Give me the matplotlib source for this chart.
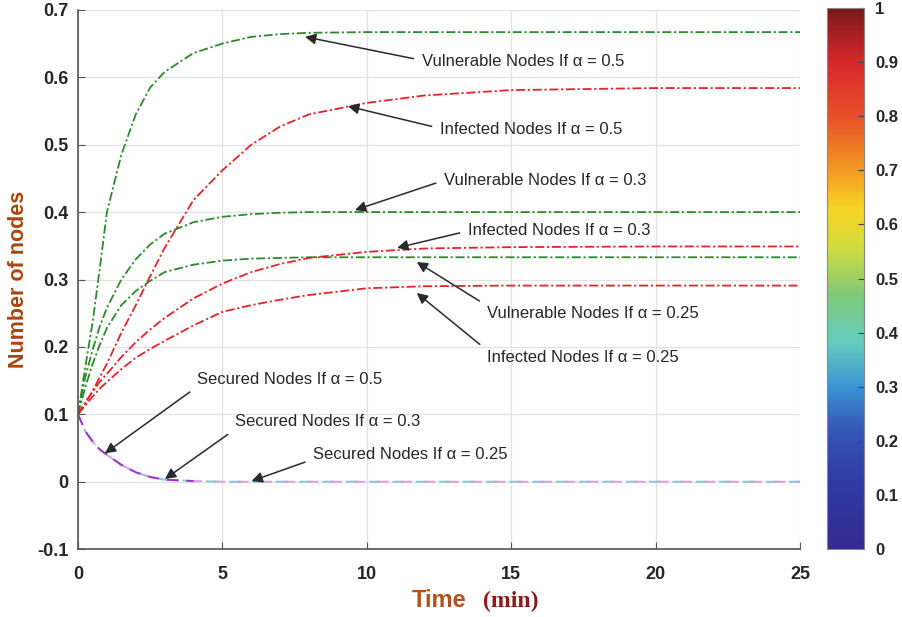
import numpy as np
import matplotlib
matplotlib.use('Agg')
from matplotlib import pyplot as plt
from matplotlib import cm, colors

plt.rcParams['font.family'] = ['Liberation Sans', 'DejaVu Sans']

# time samples (min)
t = [0, 0.25, 0.5, 0.75, 1, 1.5, 2, 2.5, 3, 4, 5, 6, 7, 8, 10, 12, 15, 20, 25]

# vulnerable nodes
vul_05 = [0.1, 0.17, 0.235, 0.315, 0.40, 0.485, 0.545, 0.585, 0.608, 0.636, 0.650, 0.660, 0.664, 0.666, 0.667, 0.667, 0.667, 0.667, 0.667]
vul_03 = [0.1, 0.155, 0.195, 0.23, 0.258, 0.30, 0.33, 0.352, 0.368, 0.385, 0.393, 0.397, 0.399, 0.400, 0.400, 0.400, 0.400, 0.400, 0.400]
vul_025 = [0.1, 0.14, 0.174, 0.203, 0.228, 0.262, 0.283, 0.298, 0.311, 0.322, 0.328, 0.331, 0.332, 0.333, 0.333, 0.333, 0.333, 0.333, 0.333]

# infected nodes
inf_05 = [0.1, 0.116, 0.134, 0.155, 0.175, 0.221, 0.262, 0.305, 0.347, 0.418, 0.462, 0.500, 0.527, 0.545, 0.562, 0.573, 0.581, 0.584, 0.584]
inf_03 = [0.1, 0.118, 0.133, 0.148, 0.160, 0.185, 0.207, 0.226, 0.243, 0.272, 0.294, 0.311, 0.323, 0.332, 0.341, 0.346, 0.348, 0.349, 0.349]
inf_025 = [0.1, 0.113, 0.126, 0.138, 0.148, 0.167, 0.184, 0.197, 0.209, 0.232, 0.252, 0.262, 0.270, 0.277, 0.287, 0.290, 0.291, 0.291, 0.291]

# secured nodes (the three alpha cases overlap)
sec_all = [0.1, 0.075, 0.060, 0.048, 0.040, 0.025, 0.014, 0.007, 0.003, 0.001, 0, 0, 0, 0, 0, 0, 0, 0, 0]

# colorbar colours (washed-out jet)
cbar_stops = [0.0, 0.12, 0.22, 0.30, 0.38, 0.47, 0.56, 0.63, 0.70, 0.80, 0.90, 1.0]
cbar_cols = ['#34298e', '#2f3aa4', '#3456b6', '#3a95d2', '#63cbc0', '#7fca78',
             '#d3dc3e', '#f7d424', '#f39a22', '#e8502a', '#d8282a', '#7a1818']

GREEN = '#2b8a2b'
RED = '#e3232c'

fig = plt.figure(figsize=(9.02, 6.17), dpi=100)
ax = fig.add_axes([0.0865, 0.110, 0.8004, 0.874])

dashdot = (0, (5, 1.5, 1.2, 1.5))
for y in (vul_05, vul_03, vul_025):
    ax.plot(t, y, color=GREEN, lw=1.3, linestyle=dashdot)
for y in (inf_05, inf_03, inf_025):
    ax.plot(t, y, color=RED, lw=1.3, linestyle=dashdot)

ax.plot(t, sec_all, color='#7fc8e0', lw=1.4, linestyle=(4, (6, 6)))
ax.plot(t, sec_all, color='#dc9ce6', lw=1.4, linestyle=(0, (6, 6)))
ax.plot(t[:10], sec_all[:10], color='#9b35c8', lw=1.4, linestyle=(0, (6, 4)))

ax.set_xlim(0, 25)
ax.set_ylim(-0.1, 0.7)
ax.set_xticks([0, 5, 10, 15, 20, 25])
ax.set_yticks([-0.1, 0, 0.1, 0.2, 0.3, 0.4, 0.5, 0.6, 0.7])
ax.set_yticklabels(['-0.1', '0', '0.1', '0.2', '0.3', '0.4', '0.5', '0.6', '0.7'])
ax.grid(True, color='#e2e2e2', lw=0.9)
ax.set_axisbelow(True)
ax.tick_params(direction='in', length=5, colors='#555555', labelcolor='#262626')
ax.tick_params(axis='x', pad=12)
ax.tick_params(axis='y', pad=7)
for lab in ax.get_xticklabels() + ax.get_yticklabels():
    lab.set_fontsize(13)
    lab.set_fontweight('bold')
ax.spines['top'].set_visible(False)
ax.spines['right'].set_visible(False)
ax.spines['left'].set_color('#555555')
ax.spines['bottom'].set_color('#555555')
ax.spines['left'].set_linewidth(1.2)
ax.spines['bottom'].set_linewidth(1.2)

ax.set_ylabel('Number of nodes', fontsize=15.5, fontweight='bold', color='#a8460f', labelpad=6)
fig.text(0.457, 0.016, 'Time', fontsize=17, fontweight='bold', color='#b0501a', ha='left')
fig.text(0.535, 0.016, '(min)', fontsize=17, fontweight='bold', color='#8b1a1a',
         ha='left', family='Liberation Serif')

# annotations: (label, text position, arrow tip, relpos)
notes = [
    ('Vulnerable Nodes If α = 0.5', (11.9, 0.623), (7.86, 0.660), (0, 0.6)),
    ('Infected Nodes If α = 0.5', (12.53, 0.522), (9.35, 0.557), (0, 0.6)),
    ('Vulnerable Nodes If α = 0.3', (12.67, 0.447), (9.59, 0.403), (0, 0.5)),
    ('Infected Nodes If α = 0.3', (13.5, 0.372), (11.05, 0.347), (0, 0.5)),
    ('Vulnerable Nodes If α = 0.25', (14.16, 0.250), (11.73, 0.326), (0, 1.0)),
    ('Infected Nodes If α = 0.25', (14.16, 0.184), (11.73, 0.280), (0, 1.0)),
    ('Secured Nodes If α = 0.5', (4.12, 0.152), (0.93, 0.042), (0, 0.0)),
    ('Secured Nodes If α = 0.3', (5.44, 0.089), (3.01, 0.004), (0, 0.0)),
    ('Secured Nodes If α = 0.25', (8.14, 0.040), (6.01, 0.001), (0, 0.2)),
]
for label, xy_text, xy_tip, rp in notes:
    ax.annotate(label, xy=xy_tip, xytext=xy_text, fontsize=12, color='#262626',
                ha='left', va='center',
                arrowprops=dict(arrowstyle='-|>', color='#2a2a2a', lw=1.1,
                                mutation_scale=16, shrinkA=4, shrinkB=0, relpos=rp))

# colorbar
cmap = colors.LinearSegmentedColormap.from_list('washed_jet', list(zip(cbar_stops, cbar_cols)))
cax = fig.add_axes([0.917, 0.110, 0.041, 0.877])
sm = cm.ScalarMappable(norm=colors.Normalize(0, 1), cmap=cmap)
cb = fig.colorbar(sm, cax=cax)
cb.set_ticks(np.arange(0, 1.01, 0.1))
cb.set_ticklabels(['0', '0.1', '0.2', '0.3', '0.4', '0.5', '0.6', '0.7', '0.8', '0.9', '1'])
cax.tick_params(direction='in', length=4, colors='#444444', labelcolor='#262626', pad=8)
for lab in cax.get_yticklabels():
    lab.set_fontsize(12)
    lab.set_fontweight('bold')
cb.outline.set_edgecolor('#888888')
cb.outline.set_linewidth(0.8)

fig.savefig('out.png', dpi=100)
